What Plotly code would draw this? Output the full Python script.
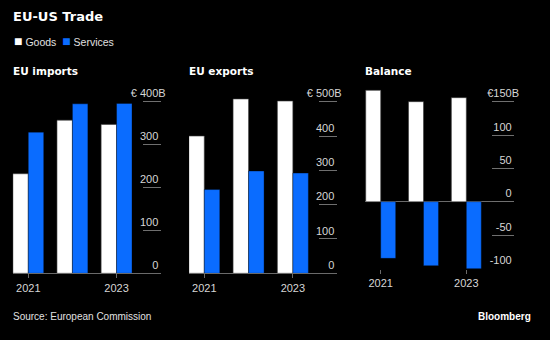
import plotly.graph_objects as go

# EU-US trade, € billions
years = [2021, 2022, 2023]
imports_goods = [232, 357, 347]
imports_services = [329, 395, 396]
exports_goods = [400, 508, 502]
exports_services = [244, 298, 292]
balance_goods = [167, 150, 156]
balance_services = [-85, -96, -104]

import_ticks = [0, 100, 200, 300, 400]
export_ticks = [0, 100, 200, 300, 400, 500]
balance_ticks = [-100, -50, 0, 50, 100, 150]
year_ticks = [2021, 2023]

GOODS = "#ffffff"
SERVICES = "#0a6cff"
GRID = "#6f6f6f"
AXIS = "#6a6a6a"
TICKTXT = "#d6d6d6"
BODY_FONT = "Liberation Sans"
BOLD_FONT = "DejaVu Sans"

W, H = 550, 340


def fx(px):
    return px / W


def fy(px):
    return 1 - px / H


def tick_labels(vals, euro_space=True):
    # the unit suffix hangs past the numbers, so every other label carries an invisible "B"
    hidden = "<span style='color:rgba(0,0,0,0)'>B</span>"
    out = []
    top = max(vals)
    for v in vals:
        if v == top:
            out.append(("€ " if euro_space else "€") + f"{v}B")
        else:
            out.append(f"{v}{hidden}")
    return out


fig = go.Figure()

panels = [
    ("x", "y", imports_goods, imports_services),
    ("x2", "y2", exports_goods, exports_services),
    ("x3", "y3", balance_goods, balance_services),
]
for xa, ya, g, s in panels:
    fig.add_trace(go.Bar(x=years, y=g, xaxis=xa, yaxis=ya, name="Goods",
                         marker=dict(color=GOODS, line=dict(color="rgba(60,60,60,0.6)", width=1)),
                         showlegend=False, cliponaxis=False, offsetgroup="g"))
    fig.add_trace(go.Bar(x=years, y=s, xaxis=xa, yaxis=ya, name="Services",
                         marker=dict(color=SERVICES, line=dict(color="rgba(0,0,0,0.35)", width=1)),
                         showlegend=False, cliponaxis=False, offsetgroup="s"))

x_common = dict(tickvals=year_ticks, ticktext=[str(y) for y in year_ticks],
                ticks="outside", ticklen=4, tickcolor=AXIS, tickwidth=1,
                tickfont=dict(family=BODY_FONT, size=11, color=TICKTXT),
                showgrid=False, zeroline=False, fixedrange=True)

y_common = dict(side="right", ticks="inside", tickcolor=GRID, tickwidth=1,
                ticklabelposition="inside top", ticklabelstandoff=-8,
                showgrid=False, showline=False,
                tickfont=dict(family=BODY_FONT, size=11, color=TICKTXT),
                fixedrange=True)

fig.update_layout(
    width=W, height=H,
    margin=dict(l=0, r=0, t=0, b=0),
    paper_bgcolor="black", plot_bgcolor="black",
    barmode="group", bargap=0.3, bargroupgap=0,
    showlegend=False,
    xaxis=dict(domain=[fx(12.7), fx(160.7)], range=[2020.647, 2024.0], anchor="y",
               showline=True, linecolor=AXIS, linewidth=1, **x_common),
    xaxis2=dict(domain=[fx(189), fx(336.7)], range=[2020.655, 2023.99], anchor="y2",
                showline=True, linecolor=AXIS, linewidth=1, **x_common),
    xaxis3=dict(domain=[fx(365), fx(514)], range=[2020.633, 2024.114], anchor="y3",
                showline=False, **x_common),
    yaxis=dict(domain=[fy(273.3), fy(78)], range=[0, 455.2], anchor="x",
               tickvals=import_ticks, ticktext=tick_labels(import_ticks),
               ticklen=18, zeroline=False, **y_common),
    yaxis2=dict(domain=[fy(273.3), fy(78)], range=[0, 569], anchor="x2",
                tickvals=export_ticks, ticktext=tick_labels(export_ticks),
                ticklen=18, zeroline=False, **y_common),
    yaxis3=dict(domain=[fy(268.5), fy(78)], range=[-100.2, 185.5], anchor="x3",
                tickvals=balance_ticks, ticktext=tick_labels(balance_ticks, euro_space=False),
                ticklen=22, zeroline=True, zerolinecolor=AXIS, zerolinewidth=1, **y_common),
)

sq = "<span style='font-size:14px;color:{c}'>■</span>"
ann = []
ann.append(dict(text="<b>EU-US Trade</b>", xref="paper", yref="paper",
                x=fx(10.5), y=fy(16.8), xanchor="left", yanchor="middle", showarrow=False,
                font=dict(family=BOLD_FONT, size=13, color="white")))
ann.append(dict(text=sq.format(c=GOODS) + " Goods  " + sq.format(c=SERVICES) + " Services",
                xref="paper", yref="paper", x=fx(12), y=fy(40.5), xanchor="left", yanchor="middle",
                showarrow=False, font=dict(family=BODY_FONT, size=10.5, color="#e0e0e0")))
for xd, title in [("x domain", "EU imports"), ("x2 domain", "EU exports"), ("x3 domain", "Balance")]:
    ann.append(dict(text=f"<b>{title}</b>", xref=xd, yref="paper", x=0, y=fy(70.5),
                    xanchor="left", yanchor="middle", xshift=-2, showarrow=False,
                    font=dict(family=BOLD_FONT, size=10.5, color="white")))
ann.append(dict(text="Source: European Commission", xref="paper", yref="paper",
                x=fx(10.5), y=fy(316.5), xanchor="left", yanchor="middle", showarrow=False,
                font=dict(family=BODY_FONT, size=10, color="#e0e0e0")))
ann.append(dict(text="<b>Bloomberg</b>", xref="paper", yref="paper",
                x=fx(533), y=fy(316), xanchor="right", yanchor="middle", showarrow=False,
                font=dict(family=BODY_FONT, size=10, color="white")))
fig.update_layout(annotations=ann)

fig.write_html("out.html")
